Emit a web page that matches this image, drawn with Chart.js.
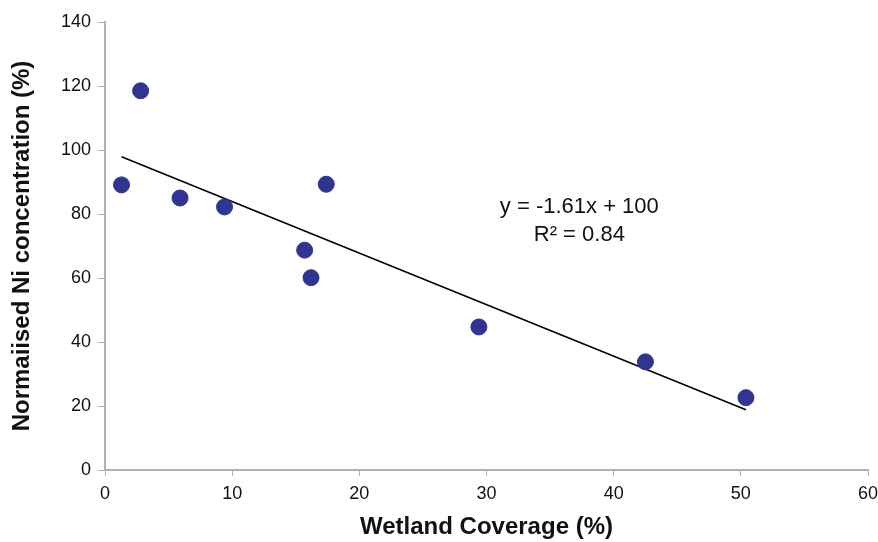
<!DOCTYPE html>
<html>
<head>
<meta charset="utf-8">
<script src="https://cdn.jsdelivr.net/npm/chart.js@4/dist/chart.umd.min.js"></script>
<style>
  html, body { margin: 0; padding: 0; background: #fff; }
  #wrap { width: 878px; height: 542px; }
</style>
</head>
<body>
<div id="wrap"><canvas id="chart"></canvas></div>
<script>
// data
const wetland = [1.3, 2.8, 5.9, 9.4, 15.7, 16.2, 17.4, 29.4, 42.5, 50.4];
const nickel  = [89.1, 118.5, 85.0, 82.2, 68.7, 60.1, 89.3, 44.7, 33.8, 22.6];
const trendSlope = -1.61;
const trendIntercept = 100;
const equationLines = ["y = -1.61x + 100", "R\u00b2 = 0.84"];

const xMin = Math.min(...wetland);
const xMax = Math.max(...wetland);
const trendPoints = [xMin, xMax].map(x => ({ x: x, y: trendSlope * x + trendIntercept }));

const FONT = "'Liberation Sans', Arial, sans-serif";

// equation label, anchored in data units
const equationPlugin = {
  id: "equation",
  afterDatasetsDraw(chart) {
    const ctx = chart.ctx;
    const xs = chart.scales.x, ys = chart.scales.y;
    const cx = xs.getPixelForValue(37.3);
    const cy = ys.getPixelForValue(82.3);
    ctx.save();
    ctx.font = "22px " + FONT;
    ctx.fillStyle = "#111";
    ctx.textAlign = "center";
    ctx.textBaseline = "middle";
    equationLines.forEach((t, i) => ctx.fillText(t, cx, cy + i * 28));
    ctx.restore();
  }
};

new Chart(document.getElementById("chart"), {
  type: "scatter",
  data: {
    datasets: [
      {
        label: "Ni",
        data: wetland.map((x, i) => ({ x: x, y: nickel[i] })),
        backgroundColor: "#2f3590",
        borderColor: "#2f3590",
        pointRadius: 8,
        pointHoverRadius: 8,
        order: 1
      },
      {
        label: "Trend",
        type: "line",
        data: trendPoints,
        borderColor: "#000",
        borderWidth: 1.6,
        pointRadius: 0,
        fill: false,
        order: 2
      }
    ]
  },
  options: {
    responsive: true,
    maintainAspectRatio: false,
    animation: false,
    layout: { padding: { top: 22, right: 0, left: 0, bottom: 0 } },
    plugins: {
      legend: { display: false },
      tooltip: { enabled: false }
    },
    scales: {
      x: {
        type: "linear",
        min: 0,
        max: 60,
        ticks: { stepSize: 10, color: "#111", font: { family: FONT, size: 18 }, padding: 7 },
        grid: { drawOnChartArea: false, color: "#b0b0b0", tickLength: 6 },
        border: { color: "#b0b0b0", width: 2 },
        title: {
          display: true,
          text: "Wetland Coverage (%)",
          color: "#111",
          font: { family: FONT, size: 24, weight: "bold" },
          padding: { top: 0, bottom: 0 }
        },
        afterFit(s) { s.height = 72; s.paddingRight = 10; }
      },
      y: {
        min: 0,
        max: 140,
        ticks: { stepSize: 20, color: "#111", font: { family: FONT, size: 18 }, padding: 7 },
        grid: { drawOnChartArea: false, color: "#b0b0b0", tickLength: 7 },
        border: { color: "#b0b0b0", width: 2 },
        title: {
          display: true,
          text: "Normaiised Ni concentration (%)",
          color: "#111",
          font: { family: FONT, size: 24, weight: "bold" },
          padding: { top: 8, bottom: 0 }
        },
        afterFit(s) { s.width = 105; }
      }
    }
  },
  plugins: [equationPlugin]
});
</script>
</body>
</html>
